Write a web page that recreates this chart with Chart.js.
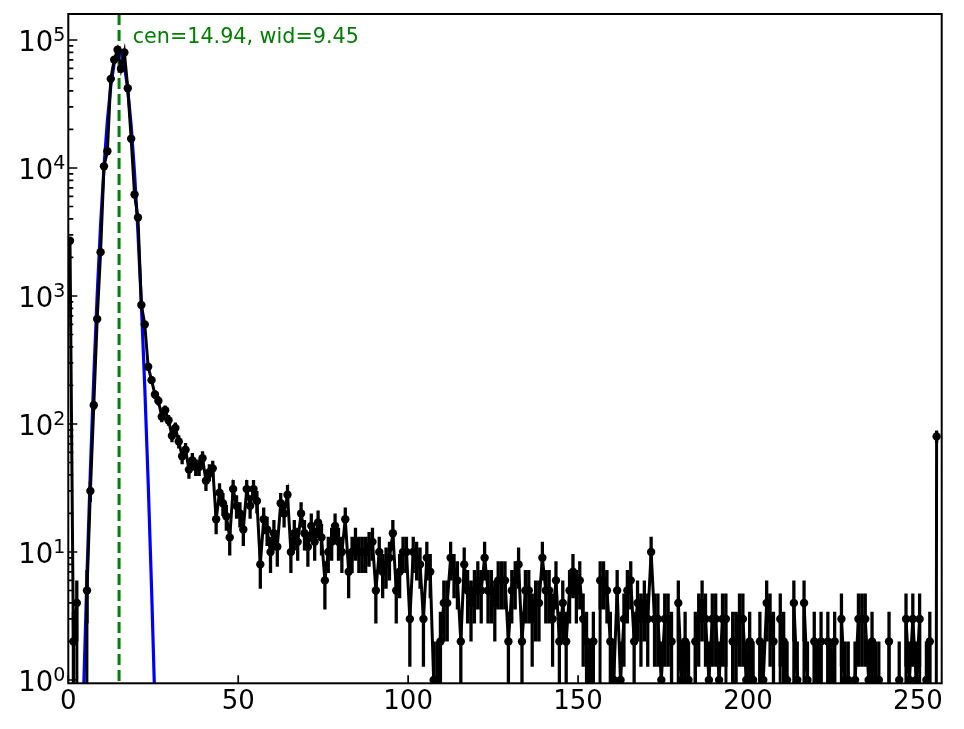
<!DOCTYPE html>
<html>
<head>
<meta charset="utf-8">
<script src="https://cdn.jsdelivr.net/npm/chart.js@4.4.0/dist/chart.umd.min.js"></script>
<style>
html, body { margin: 0; padding: 0; background: #fff; }
#wrap { width: 964px; height: 729px; }
</style>
</head>
<body>
<div id="wrap"><canvas id="histChart" width="964" height="729"></canvas></div>
<script>
// counts per bin, bins 0..255
var counts = [
  2700, 2, 4, 0, 0, 5, 30, 140, 660, 2200, 10300, 13500, 49700, 70000, 83800, 59600,
  79800, 42000, 16900, 6200, 4100, 850, 600, 280, 220, 170, 152, 114, 128, 107, 81, 93,
  73, 56, 63, 44, 52, 46, 46, 54, 36, 42, 45, 18, 29, 24, 19, 13,
  31, 23, 20, 15, 31, 23, 31, 25, 8, 18, 15, 10, 14, 11, 24, 20,
  28, 10, 14, 12, 20, 14, 11, 16, 12, 17, 13, 6, 10, 12, 16, 12,
  10, 18, 7, 10, 12, 10, 10, 10, 11, 12, 5, 10, 7, 8, 9, 14,
  5, 7, 10, 10, 3, 10, 9, 8, 3, 9, 7, 1, 1, 2, 4, 4,
  9, 7, 6, 2, 8, 5, 4, 5, 6, 5, 9, 5, 5, 4, 6, 6,
  6, 2, 5, 6, 8, 2, 5, 5, 3, 4, 4, 9, 5, 5, 3, 6,
  2, 4, 2, 5, 7, 5, 6, 3, 2, 1, 2, 0, 6, 6, 5, 2,
  1, 5, 1, 3, 5, 6, 2, 4, 3, 4, 3, 10, 3, 3, 1, 3,
  3, 2, 0, 4, 1, 2, 1, 0, 2, 3, 4, 3, 1, 3, 3, 1,
  3, 3, 0, 2, 2, 3, 3, 1, 2, 1, 0, 2, 1, 4, 3, 2,
  0, 3, 2, 1, 0, 4, 1, 0, 4, 1, 0, 2, 1, 2, 0, 2,
  1, 2, 0, 3, 1, 1, 0, 1, 3, 3, 3, 1, 2, 1, 1, 0,
  0, 2, 0, 0, 1, 0, 3, 1, 3, 1, 3, 0, 1, 2, 0, 80
];

// gaussian fit curve, read at bins 2..26
var fitStart = 2;
var fitValues = [0.0063, 0.079, 0.80, 6.6, 43.6, 234, 1018, 3582, 10180, 23440, 43670, 65840,
                 80340, 79300, 63380, 40980, 21450, 9085, 3114, 863, 194, 35.2, 5.2, 0.62, 0.059];

var cen = 14.94;
var wid = 9.45;
var xTicks = [0, 50, 100, 150, 200, 250];
var yDecades = [0, 1, 2, 3, 4, 5];

// empty bins are sent far below the axis (like a clipped log plot) instead of leaving a gap
var dataPoints = counts.map(function (c, i) { return { x: i + 0.5, y: c > 0 ? c : 1e-20 }; });
var fitPoints = fitValues.map(function (v, i) { return { x: fitStart + i + 0.5, y: v }; });

var FONT = '"DejaVu Sans", sans-serif';

var decor = {
  id: 'decor',
  beforeDatasetsDraw: function (chart) {
    var ctx = chart.ctx, a = chart.chartArea;
    var px = chart.scales.x.getPixelForValue(cen);
    ctx.save();
    ctx.strokeStyle = '#008000';
    ctx.lineWidth = 3;
    ctx.setLineDash([11, 5]);
    ctx.beginPath();
    ctx.moveTo(px, a.top);
    ctx.lineTo(px, a.bottom);
    ctx.stroke();
    ctx.restore();
  },
  beforeDatasetDraw: function (chart, args) {
    if (args.index !== 0) return;
    // sqrt(N) error bars
    var ctx = chart.ctx, a = chart.chartArea, xs = chart.scales.x, ys = chart.scales.y;
    ctx.save();
    ctx.beginPath();
    ctx.rect(a.left, a.top, a.right - a.left, a.bottom - a.top);
    ctx.clip();
    ctx.strokeStyle = '#000';
    ctx.lineWidth = 3.3;
    ctx.beginPath();
    counts.forEach(function (c, i) {
      if (c <= 0) return;
      var e = Math.sqrt(c);
      var px = xs.getPixelForValue(i + 0.5);
      var lo = c - e > 0 ? ys.getPixelForValue(c - e) : a.bottom;
      ctx.moveTo(px, lo);
      ctx.lineTo(px, ys.getPixelForValue(c + e));
    });
    ctx.stroke();
    ctx.restore();
  },
  afterDraw: function (chart) {
    var ctx = chart.ctx, a = chart.chartArea, xs = chart.scales.x, ys = chart.scales.y;
    ctx.save();
    ctx.strokeStyle = '#000';
    ctx.lineWidth = 2;
    ctx.strokeRect(a.left, a.top, a.right - a.left, a.bottom - a.top);

    // inward ticks
    ctx.lineWidth = 1.7;
    ctx.beginPath();
    xTicks.forEach(function (v) {
      var px = xs.getPixelForValue(v);
      ctx.moveTo(px, a.bottom);
      ctx.lineTo(px, a.bottom - 8);
    });
    yDecades.forEach(function (k) {
      for (var n = 1; n <= 9; n++) {
        var v = n * Math.pow(10, k);
        if (v < ys.min || v > ys.max) continue;
        var py = ys.getPixelForValue(v);
        ctx.moveTo(a.left, py);
        ctx.lineTo(a.left + (n === 1 ? 9 : 5), py);
      }
    });
    ctx.stroke();

    // tick labels
    ctx.fillStyle = '#000';
    ctx.textBaseline = 'alphabetic';
    ctx.font = '26px ' + FONT;
    ctx.textAlign = 'center';
    xTicks.forEach(function (v) {
      ctx.fillText(String(v), xs.getPixelForValue(v), a.bottom + 25.3);
    });
    ctx.textAlign = 'right';
    yDecades.forEach(function (k) {
      var py = ys.getPixelForValue(Math.pow(10, k));
      ctx.font = '19px ' + FONT;
      var w = ctx.measureText(String(k)).width;
      ctx.fillText(String(k), a.left - 3, py + 1);
      ctx.font = '27.5px ' + FONT;
      ctx.fillText('10', a.left - 3 - w, py + 11);
    });

    // fit annotation
    ctx.fillStyle = '#008000';
    ctx.textAlign = 'left';
    ctx.font = '20.7px ' + FONT;
    ctx.fillText('cen=' + cen.toFixed(2) + ', wid=' + wid.toFixed(2), 132.7, 43);
    ctx.restore();
  }
};

new Chart(document.getElementById('histChart'), {
  type: 'line',
  data: {
    datasets: [
      {
        label: 'counts',
        data: dataPoints,
        borderColor: '#000',
        borderWidth: 3,
        pointRadius: function (c) { return counts[c.dataIndex] > 0 ? 4.2 : 0; },
        pointBackgroundColor: '#000',
        pointBorderWidth: 0,
        tension: 0,
        order: 0
      },
      {
        label: 'fit',
        data: fitPoints,
        borderColor: '#0000ff',
        borderWidth: 3.2,
        pointRadius: 0,
        tension: 0,
        order: 1
      }
    ]
  },
  options: {
    responsive: false,
    animation: false,
    events: [],
    layout: { padding: { top: 14, right: 22.3, left: 0, bottom: 0 } },
    plugins: { legend: { display: false }, tooltip: { enabled: false } },
    scales: {
      x: {
        type: 'linear', min: 0, max: 257,
        ticks: { display: false }, grid: { display: false }, border: { display: false },
        afterFit: function (s) { s.height = 45.7; }
      },
      y: {
        type: 'logarithmic', min: 0.942, max: 159600,
        ticks: { display: false }, grid: { display: false }, border: { display: false },
        afterFit: function (s) { s.width = 68.3; }
      }
    }
  },
  plugins: [decor]
});
</script>
</body>
</html>
